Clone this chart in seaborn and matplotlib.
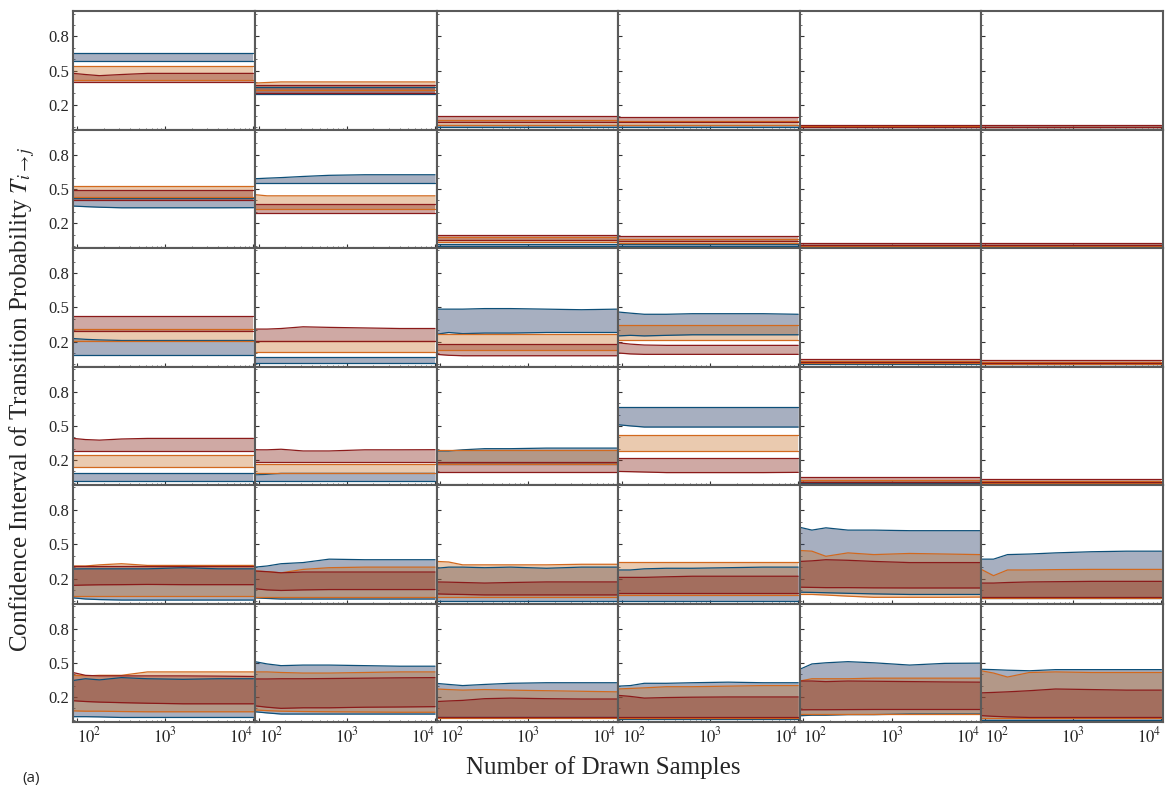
import numpy as np
import pandas as pd
import matplotlib
matplotlib.use("Agg")
import matplotlib.pyplot as plt
import seaborn as sns
from matplotlib.ticker import FixedLocator, MultipleLocator, LogLocator, NullFormatter

# ---------------- data ----------------
N_SAMPLES = [91, 125, 180, 320, 630, 1600, 4000, 10000]
Y_TICKS = [0.2, 0.5, 0.8]
X_TICKS = [100, 1000, 10000]
X_TICK_LABELS = [r"$10^{2}$", r"$10^{3}$", r"$10^{4}$"]

BLUE_LO = [
    [0.58, 0.29, 0.0, 0.0, 0.0, 0.0],
    [[0.35, 0.345, 0.34, 0.335, 0.335, 0.335, 0.335, 0.336], 0.549, 0.0, 0.0, 0.0, 0.0],
    [0.082, 0.01, [0.265, 0.28, 0.27, 0.275, 0.275, 0.28, 0.28, 0.28],
     [0.25, 0.255, 0.25, 0.255, 0.26, 0.26, 0.26, 0.26], 0.0, 0.0],
    [0.018, 0.013, 0.165, [0.51, 0.50, 0.49, 0.49, 0.49, 0.49, 0.49, 0.49], 0.0, 0.0],
    [[0.03, 0.02, 0.015, 0.011, 0.011, 0.011, 0.011, 0.011],
     [0.03, 0.025, 0.02, 0.02, 0.02, 0.02, 0.02, 0.02], 0.005, 0.005,
     [0.08, 0.078, 0.075, 0.07, 0.065, 0.06, 0.06, 0.06], 0.03],
    [[0.027, 0.027, 0.025, 0.02, 0.02, 0.02, 0.02, 0.02],
     [0.07, 0.06, 0.05, 0.05, 0.05, 0.05, 0.05, 0.05], 0.02, 0.01,
     [0.035, 0.04, 0.04, 0.045, 0.045, 0.05, 0.05, 0.05], 0.0],
]
BLUE_HI = [
    [0.65, 0.355, 0.025, 0.02, 0.005, 0.004],
    [0.418, [0.59, 0.595, 0.60, 0.61, 0.62, 0.625, 0.625, 0.625], 0.02, 0.02, 0.006, 0.005],
    [[0.227, 0.22, 0.215, 0.21, 0.21, 0.21, 0.21, 0.21], 0.067,
     [0.485, 0.485, 0.485, 0.49, 0.49, 0.485, 0.48, 0.485],
     [0.46, 0.45, 0.44, 0.44, 0.445, 0.445, 0.445, 0.44], 0.015, 0.006],
    [0.088, [0.07, 0.075, 0.083, 0.083, 0.083, 0.083, 0.083, 0.083],
     [0.28, 0.28, 0.29, 0.30, 0.30, 0.305, 0.305, 0.305], 0.664, 0.01, 0.005],
    [[0.284, 0.285, 0.285, 0.285, 0.285, 0.295, 0.285, 0.285],
     [0.30, 0.31, 0.33, 0.34, 0.37, 0.365, 0.365, 0.365],
     [0.29, 0.30, 0.30, 0.295, 0.30, 0.29, 0.30, 0.30],
     [0.275, 0.275, 0.285, 0.29, 0.29, 0.295, 0.30, 0.30],
     [0.65, 0.625, 0.645, 0.625, 0.625, 0.62, 0.62, 0.62],
     [0.37, 0.37, 0.41, 0.415, 0.425, 0.435, 0.44, 0.44]],
    [[0.345, 0.36, 0.35, 0.37, 0.36, 0.355, 0.36, 0.36],
     [0.51, 0.49, 0.475, 0.48, 0.48, 0.475, 0.47, 0.47],
     [0.319, 0.31, 0.30, 0.31, 0.32, 0.325, 0.325, 0.325],
     [0.295, 0.30, 0.32, 0.32, 0.325, 0.33, 0.325, 0.325],
     [0.443, 0.49, 0.50, 0.51, 0.50, 0.48, 0.495, 0.497],
     [0.443, 0.44, 0.435, 0.43, 0.44, 0.44, 0.44, 0.44]],
]
ORANGE_LO = [
    [0.42, 0.325, 0.02, 0.025, 0.0, 0.0],
    [0.434, 0.32, 0.035, 0.03, 0.002, 0.002],
    [0.204, 0.113, 0.122, 0.218, 0.01, 0.004],
    [0.14, 0.088, 0.165, 0.279, 0.005, 0.003],
    [0.047, 0.04, 0.04, 0.055,
     [0.06, 0.06, 0.055, 0.045, 0.035, 0.035, 0.035, 0.037], 0.025],
    [[0.078, 0.075, 0.075, 0.072, 0.07, 0.07, 0.07, 0.07],
     [0.086, 0.08, 0.075, 0.072, 0.07, 0.068, 0.066, 0.066], 0.015, 0.015, 0.05, 0.015],
]
ORANGE_HI = [
    [0.54, [0.39, 0.395, 0.40, 0.40, 0.40, 0.40, 0.40, 0.40], 0.065, 0.06, 0.01, 0.008],
    [0.525, [0.45, 0.44, 0.44, 0.44, 0.44, 0.44, 0.44, 0.44], 0.075, 0.065, 0.012, 0.012],
    [0.315, 0.205, 0.265, 0.345, 0.03, 0.02],
    [0.245, 0.164, 0.285, 0.422, 0.025, 0.015],
    [[0.31, 0.31, 0.32, 0.33, 0.315, 0.315, 0.315, 0.315],
     [0.266, 0.26, 0.25, 0.28, 0.295, 0.30, 0.30, 0.30],
     [0.35, 0.345, 0.32, 0.32, 0.32, 0.32, 0.325, 0.325], 0.344,
     [0.446, 0.44, 0.395, 0.425, 0.41, 0.42, 0.415, 0.41],
     [0.28, 0.225, 0.275, 0.275, 0.278, 0.28, 0.28, 0.28]],
    [[0.39, 0.385, 0.39, 0.39, 0.42, 0.42, 0.42, 0.42],
     [0.42, 0.42, 0.415, 0.41, 0.41, 0.415, 0.42, 0.42],
     [0.27, 0.265, 0.26, 0.265, 0.26, 0.255, 0.25, 0.245],
     [0.27, 0.275, 0.28, 0.29, 0.29, 0.295, 0.30, 0.30],
     [0.34, 0.36, 0.36, 0.36, 0.365, 0.365, 0.365, 0.365],
     [0.43, 0.41, 0.375, 0.415, 0.42, 0.415, 0.415, 0.415]],
]
RED_LO = [
    [0.40, 0.30, 0.045, 0.05, 0.0, 0.0],
    [0.404, 0.288, 0.05, 0.045, 0.004, 0.004],
    [0.295, 0.209, [0.088, 0.08, 0.076, 0.076, 0.076, 0.076, 0.076, 0.076],
     [0.10, 0.092, 0.088, 0.088, 0.088, 0.088, 0.088, 0.088], 0.02, 0.01],
    [0.276, 0.185, 0.095, [0.10, 0.098, 0.095, 0.09, 0.09, 0.09, 0.09, 0.092], 0.01, 0.005],
    [[0.14, 0.143, 0.145, 0.146, 0.148, 0.146, 0.146, 0.146],
     [0.11, 0.10, 0.095, 0.10, 0.103, 0.103, 0.103, 0.103],
     [0.065, 0.062, 0.06, 0.056, 0.056, 0.056, 0.056, 0.056], 0.07,
     [0.124, 0.122, 0.12, 0.12, 0.118, 0.117, 0.117, 0.117], 0.04],
    [[0.167, 0.16, 0.155, 0.15, 0.145, 0.14, 0.14, 0.14],
     [0.122, 0.11, 0.10, 0.105, 0.105, 0.11, 0.112, 0.115], 0.027, 0.027,
     [0.087, 0.088, 0.088, 0.089, 0.09, 0.09, 0.09, 0.09],
     [0.036, 0.03, 0.025, 0.02, 0.02, 0.02, 0.02, 0.02]],
]
RED_HI = [
    [[0.475, 0.465, 0.455, 0.465, 0.475, 0.475, 0.475, 0.475], 0.37, 0.10, 0.09, 0.02, 0.018],
    [0.488, 0.367, 0.10, 0.085, 0.03, 0.03],
    [0.425, [0.31, 0.31, 0.315, 0.33, 0.325, 0.32, 0.315, 0.315], 0.179,
     [0.19, 0.178, 0.17, 0.167, 0.167, 0.167, 0.167, 0.167], 0.045, 0.035],
    [[0.39, 0.38, 0.375, 0.385, 0.39, 0.39, 0.39, 0.39],
     [0.29, 0.29, 0.295, 0.28, 0.28, 0.29, 0.29, 0.291], 0.185, 0.218, 0.05, 0.03],
    [0.313, [0.266, 0.26, 0.25, 0.257, 0.257, 0.257, 0.257, 0.257],
     [0.17, 0.168, 0.165, 0.16, 0.165, 0.17, 0.17, 0.17],
     [0.21, 0.21, 0.21, 0.215, 0.22, 0.22, 0.22, 0.22],
     [0.35, 0.355, 0.365, 0.36, 0.35, 0.34, 0.34, 0.34],
     [0.16, 0.16, 0.165, 0.17, 0.172, 0.175, 0.175, 0.175]],
    [[0.414, 0.39, 0.385, 0.385, 0.385, 0.385, 0.383, 0.38],
     [0.358, 0.358, 0.36, 0.36, 0.362, 0.365, 0.368, 0.37],
     [0.16, 0.165, 0.17, 0.185, 0.19, 0.185, 0.182, 0.182],
     [0.214, 0.205, 0.19, 0.195, 0.198, 0.20, 0.20, 0.20],
     [0.34, 0.34, 0.335, 0.34, 0.338, 0.335, 0.332, 0.33],
     [0.236, 0.24, 0.245, 0.255, 0.27, 0.265, 0.26, 0.26]],
]

# ---------------- style ----------------
FILL = {"blue": "#34466e", "orange": "#c8742e", "red": "#8e3426"}
ALPHA = {"blue": 0.43, "orange": 0.38, "red": 0.42}
EDGE = {"blue": "#0d4f78", "orange": "#d2691e", "red": "#8b1a1a"}

sns.set_theme(style="ticks")
plt.rcParams["font.family"] = ["Liberation Serif", "DejaVu Serif"]
plt.rcParams["mathtext.fontset"] = "stix"

fig, axes = plt.subplots(6, 6, figsize=(11.66, 7.91), dpi=100, sharex=True, sharey=True)
fig.subplots_adjust(left=0.0629, right=0.9974, top=0.9857, bottom=0.0872,
                    wspace=0, hspace=0)

x = np.array(N_SAMPLES, dtype=float)
series_data = [("blue", BLUE_LO, BLUE_HI), ("orange", ORANGE_LO, ORANGE_HI),
               ("red", RED_LO, RED_HI)]

for r in range(6):
    for c in range(6):
        ax = axes[r, c]
        records = []
        for name, lo_arr, hi_arr in series_data:
            lo = np.broadcast_to(np.asarray(lo_arr[r][c], dtype=float), x.shape)
            hi = np.broadcast_to(np.asarray(hi_arr[r][c], dtype=float), x.shape)
            ax.fill_between(x, lo, hi, color=FILL[name], alpha=ALPHA[name], lw=0)
            for xi, v in zip(x, lo):
                records.append((xi, v, name, "lo"))
            for xi, v in zip(x, hi):
                records.append((xi, v, name, "hi"))
        df = pd.DataFrame(records, columns=["N", "value", "series", "edge"])
        sns.lineplot(data=df, x="N", y="value", hue="series", units="edge",
                     estimator=None, palette=EDGE, legend=False, lw=0.9,
                     sort=False, ax=ax)
        ax.set_xscale("log")
        ax.set_xlim(91, 10400)
        ax.set_ylim(-0.02, 1.02)
        ax.set_xlabel("")
        ax.set_ylabel("")
        ax.yaxis.set_major_locator(FixedLocator(Y_TICKS))
        ax.yaxis.set_minor_locator(MultipleLocator(0.1))
        ax.xaxis.set_major_locator(FixedLocator(X_TICKS))
        ax.xaxis.set_minor_locator(LogLocator(base=10, subs=np.arange(2, 10)))
        ax.xaxis.set_minor_formatter(NullFormatter())
        ax.tick_params(which="major", direction="in", length=3, width=0.8,
                       color="#333333", labelsize=12, pad=3,
                       top=False, right=False)
        ax.tick_params(which="minor", direction="in", length=1.5, width=0.6,
                       color="#555555", top=False, right=False)
        for sp in ax.spines.values():
            sp.set_color("#5a5a5a")
            sp.set_linewidth(1.5)

for ax in axes[-1, :]:
    ax.set_xticklabels(X_TICK_LABELS)
    for lab, ha in zip(ax.get_xticklabels(), ["left", "center", "right"]):
        lab.set_horizontalalignment(ha)

fig.text(0.517, 0.030, "Number of Drawn Samples", ha="center", va="center",
         fontsize=18)
fig.text(0.019, 0.495, r"Confidence Interval of Transition Probability $T_{i\to j}$",
         ha="center", va="center", rotation=90, fontsize=18)
fig.text(0.027, 0.016, "(a)", ha="center", va="center", fontsize=11,
         family=["Open Sans", "DejaVu Sans"])

fig.savefig("out.png", dpi=100)
